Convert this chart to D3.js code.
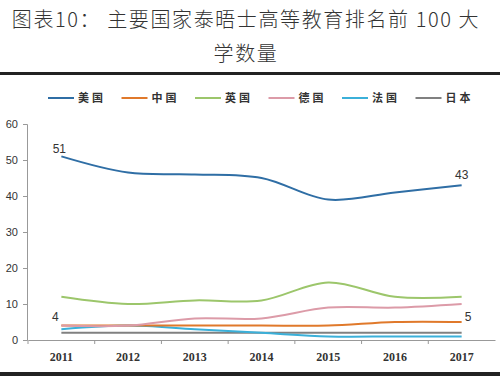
<!DOCTYPE html>
<html>
<head>
<meta charset="utf-8">
<script src="https://cdn.jsdelivr.net/npm/d3@7"></script>
<style>
  body { margin: 0; background: #fff; }
  svg { display: block; }
</style>
</head>
<body>
<svg width="500" height="376"></svg>
<script>
const years = ["2011", "2012", "2013", "2014", "2015", "2016", "2017"];
const yTicks = [0, 10, 20, 30, 40, 50, 60];
const countries = ["美国", "中国", "英国", "德国", "法国", "日本"];
const colors = ["#2f6ea5", "#e0792b", "#9cc66b", "#dc9ba8", "#3bb0d9", "#808080"];

const usa = [51, 46.5, 46, 45, 39, 41, 43];
const china = [4, 4, 4, 4, 4, 5, 5];
const uk = [12, 10, 11, 11, 16, 12, 12];
const germany = [4, 4, 6, 6, 9, 9, 10];
const france = [3, 4, 3, 2, 1, 1, 1];
const japan = [2, 2, 2, 2, 2, 2, 2];
const seriesValues = [usa, china, uk, germany, france, japan];

const svg = d3.select("svg");

// title
const titleStyle = s => s
  .attr("text-anchor", "middle")
  .style("font-family", "'Noto Sans CJK SC', serif")
  .style("font-size", "20px")
  .style("font-weight", "300")
  .style("letter-spacing", "1.6px")
  .style("fill", "#333");
svg.append("text").attr("x", 246).attr("y", 27).call(titleStyle)
  .text("图表10： 主要国家泰晤士高等教育排名前 100 大");
svg.append("text").attr("x", 246).attr("y", 61).call(titleStyle)
  .text("学数量");

svg.append("rect").attr("x", 0).attr("y", 72).attr("width", 500).attr("height", 3).attr("fill", "#222");
svg.append("rect").attr("x", 0).attr("y", 372).attr("width", 500).attr("height", 4).attr("fill", "#222");

const x = d3.scaleBand().domain(years).range([28, 495]);
const y = d3.scaleLinear().domain([0, 60]).range([340, 124]);

// axes
const yAxis = svg.append("g")
  .attr("transform", "translate(27,0)")
  .call(d3.axisLeft(y).tickValues(yTicks).tickSize(4).tickPadding(5));
yAxis.select(".domain").attr("stroke", "#999");
yAxis.selectAll(".tick line").attr("stroke", "#999");
yAxis.selectAll("text")
  .style("font-family", "'Liberation Sans', Arial, sans-serif")
  .style("font-size", "11px")
  .attr("fill", "#333");

const xAxis = svg.append("g")
  .attr("transform", "translate(0,340)")
  .call(d3.axisBottom(x).tickSize(0).tickPadding(12));
xAxis.select(".domain").attr("stroke", "#999");
xAxis.selectAll("text")
  .style("font-family", "'Liberation Serif', 'Times New Roman', serif")
  .style("font-size", "12px")
  .style("font-weight", "bold")
  .attr("fill", "#333");
svg.append("g")
  .selectAll("line")
  .data(years)
  .join("line")
  .attr("x1", d => x(d)).attr("x2", d => x(d))
  .attr("y1", 340).attr("y2", 344)
  .attr("stroke", "#999");

// lines
const line = d3.line()
  .x((d, i) => x(years[i]) + x.bandwidth() / 2)
  .y(d => y(d))
  .curve(d3.curveCatmullRom.alpha(0.5));

const order = [5, 4, 1, 3, 2, 0];
svg.append("g")
  .selectAll("path")
  .data(order)
  .join("path")
  .attr("d", i => line(seriesValues[i]))
  .attr("fill", "none")
  .attr("stroke", i => colors[i])
  .attr("stroke-width", 2);

// data labels
const cx = i => x(years[i]) + x.bandwidth() / 2;
const labelStyle = s => s.style("font-family", "'Liberation Sans', Arial, sans-serif")
  .style("font-size", "12px").attr("fill", "#333");
svg.append("text").attr("x", cx(0) - 2).attr("y", y(usa[0]) - 3).attr("text-anchor", "middle").call(labelStyle).text(usa[0]);
svg.append("text").attr("x", cx(6)).attr("y", y(usa[6]) - 6).attr("text-anchor", "middle").call(labelStyle).text(usa[6]);
svg.append("text").attr("x", cx(0) - 6).attr("y", y(china[0]) - 5).attr("text-anchor", "middle").call(labelStyle).text(china[0]);
svg.append("text").attr("x", cx(6) + 3).attr("y", y(china[6]) - 1).attr("text-anchor", "start").call(labelStyle).text(china[6]);

// legend
const legend = svg.append("g")
  .selectAll("g")
  .data(countries)
  .join("g")
  .attr("transform", (d, i) => `translate(${48 + i * 73.5},98)`);
legend.append("line")
  .attr("x1", 0).attr("x2", 26)
  .attr("stroke", (d, i) => colors[i])
  .attr("stroke-width", 2);
legend.append("text")
  .attr("x", 30).attr("y", 4)
  .style("font-family", "'Noto Sans CJK SC', sans-serif")
  .style("font-size", "11px")
  .style("font-weight", "bold")
  .style("letter-spacing", "3px")
  .attr("fill", "#333")
  .text(d => d);
</script>
</body>
</html>
